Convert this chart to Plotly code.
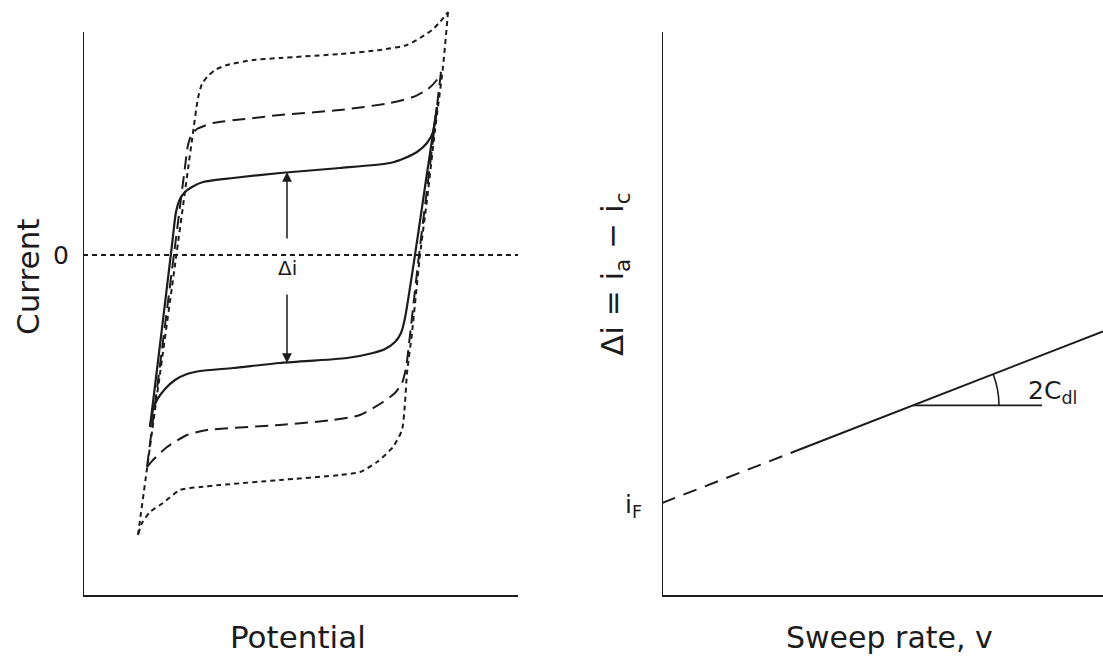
import math
import plotly.graph_objects as go

# ---------------- data (arbitrary units) ----------------
# Left panel: cyclic voltammograms at three sweep rates (potential, current)
solid_fwd_E = [67, 80, 89, 93, 97, 102, 109, 120, 150, 197, 257, 307, 322, 334, 344, 350, 354]
solid_fwd_I = [-172, -65, 10, 43, 56, 63, 68, 73, 77, 82, 87, 92, 97, 103, 112, 123, 148]
solid_rev_E = [354, 343, 332, 322, 318, 312, 302, 290, 264, 197, 150, 117, 104, 92, 82, 74, 70, 67]
solid_rev_I = [148, 75, 0, -63, -78, -87, -94, -98, -103, -108, -113, -116, -119, -125, -134, -145, -155, -172]

dashed_fwd_E = [64, 77, 90, 101, 105, 108, 114, 130, 162, 197, 257, 307, 330, 345, 353, 358]
dashed_fwd_I = [-212, -110, -7, 80, 110, 119, 126, 132, 136, 140, 145, 152, 158, 166, 174, 183]
dashed_rev_E = [358, 347, 336, 327, 323, 319, 312, 300, 277, 250, 197, 124, 104, 84, 70, 64]
dashed_rev_I = [183, 90, 0, -80, -113, -128, -138, -147, -160, -165, -170, -175, -180, -192, -205, -212]

dotted_fwd_E = [55, 72, 92, 109, 115, 119, 125, 132, 144, 170, 197, 257, 297, 324, 337, 349, 357, 365]
dotted_fwd_I = [-280, -155, -10, 115, 157, 171, 179, 185, 190, 195, 197, 201, 205, 210, 217, 225, 233, 243]
dotted_rev_E = [365, 360, 352, 344, 337, 329, 324, 322, 319, 310, 294, 277, 257, 197, 137, 117, 97, 80, 67, 59, 55]
dotted_rev_I = [243, 188, 125, 55, 0, -78, -118, -148, -175, -192, -207, -217, -220, -225, -230, -232, -235, -248, -257, -268, -280]

zero_E = [0, 435]
zero_I = [0, 0]

arrow_E = 204
arrow_top_I = [15, 83]      # tail, head
arrow_bot_I = [-38, -108]   # tail, head

# Right panel: delta i vs sweep rate
i_F = 92
slope_2Cdl = 0.389
extrap_v = [0, 135]
meas_v = [135, 441]
tangent_v = [251, 380]

# ---------------- figure ----------------
W, H = 1103, 664
INK = "#1c1c1c"
FONT = "DejaVu Sans"

def px_x(p):
    return p / W

def px_y(p):
    return (H - p) / H

fig = go.Figure()

def add_line(x, y, dash, width=2.0, xa="x", ya="y"):
    fig.add_trace(go.Scatter(x=x, y=y, mode="lines", xaxis=xa, yaxis=ya,
                             line=dict(color=INK, width=width, dash=dash,
                                       shape="spline", smoothing=0.6),
                             hoverinfo="skip", showlegend=False))

add_line(solid_fwd_E, solid_fwd_I, "solid", 2.2)
add_line(solid_rev_E, solid_rev_I, "solid", 2.2)
add_line(dashed_fwd_E, dashed_fwd_I, "13px,7px", 2.0)
add_line(dashed_rev_E, dashed_rev_I, "13px,7px", 2.0)
add_line(dotted_fwd_E, dotted_fwd_I, "5px,4px", 2.0)
add_line(dotted_rev_E, dotted_rev_I, "5px,4px", 2.0)
add_line(zero_E, zero_I, "5px,4px", 1.8)

# right panel lines
extrap_di = [i_F + slope_2Cdl * v for v in extrap_v]
meas_di = [i_F + slope_2Cdl * v for v in meas_v]
tan_level = i_F + slope_2Cdl * tangent_v[0]
add_line(extrap_v, extrap_di, "14px,9px", 2.0, "x2", "y2")
add_line(meas_v, meas_di, "solid", 2.0, "x2", "y2")
add_line(tangent_v, [tan_level, tan_level], "solid", 1.8, "x2", "y2")

# axes
dom_y = [px_y(595), px_y(5)]
fig.update_layout(
    width=W, height=H,
    margin=dict(l=0, r=0, t=0, b=0),
    paper_bgcolor="white", plot_bgcolor="white",
    xaxis=dict(domain=[px_x(83), px_x(518)], range=[0, 435], showgrid=False,
               zeroline=False, showticklabels=False, ticks="", showline=True,
               linecolor=INK, linewidth=2, fixedrange=True),
    yaxis=dict(domain=dom_y, range=[-340, 250], showgrid=False, zeroline=False,
               showticklabels=False, ticks="", showline=False, fixedrange=True),
    xaxis2=dict(domain=[px_x(662), 1.0], range=[0, 441], showgrid=False,
                zeroline=False, showticklabels=False, ticks="", showline=True,
                linecolor=INK, linewidth=2, anchor="y2", fixedrange=True),
    yaxis2=dict(domain=dom_y, range=[0, 590], showgrid=False, zeroline=False,
                showticklabels=False, ticks="", showline=False, anchor="x2",
                fixedrange=True),
)

# vertical axis lines (shorter than plotting area)
fig.add_shape(type="line", xref="x", yref="y", x0=0, x1=0, y0=-340, y1=223,
              line=dict(color=INK, width=2))
fig.add_shape(type="line", xref="x2", yref="y2", x0=0, x1=0, y0=0, y1=563,
              line=dict(color=INK, width=2))

# angle arc 2Cdl
r = 86
cx, cy = tangent_v[0], tan_level
th = math.atan(slope_2Cdl)
p0 = (cx + r, cy)
ctrl = (cx + r, cy + r * math.tan(th / 2))
p2 = (cx + r * math.cos(th), cy + r * math.sin(th))
fig.add_shape(type="path", xref="x2", yref="y2",
              path=f"M {p0[0]},{p0[1]} Q {ctrl[0]},{ctrl[1]} {p2[0]},{p2[1]}",
              line=dict(color=INK, width=1.6))

# delta-i double arrow
for tail, head in (arrow_top_I, arrow_bot_I):
    fig.add_annotation(x=arrow_E, y=head, ax=arrow_E, ay=tail, xref="x", yref="y",
                       axref="x", ayref="y", text="", showarrow=True,
                       arrowhead=2, arrowsize=1.3, arrowwidth=1.5, arrowcolor=INK)

fig.add_annotation(x=arrow_E, y=-13, xref="x", yref="y", text="Δi", showarrow=False,
                   font=dict(family=FONT, size=20, color=INK))

def label(text, x, y, size=29, angle=0, xanchor="center"):
    fig.add_annotation(x=px_x(x), y=px_y(y), xref="paper", yref="paper", text=text,
                       showarrow=False, textangle=angle, xanchor=xanchor, yanchor="middle",
                       font=dict(family=FONT, size=size, color=INK))

label("Current", 28, 277, 31, -90)
label("0", 61, 255, 25)
label("Potential", 298, 637, 31)
label("Sweep rate, v", 889, 637, 30)
label("Δi = i<sub>a</sub> − i<sub>c</sub>", 614, 274, 31, -90)
label("i<sub>F</sub>", 633, 506, 25)
label("2C<sub>dl</sub>", 1026, 392, 25, 0, "left")

fig.write_html("out.html", config={"displayModeBar": False},
               post_script="document.body.style.margin='0';")
